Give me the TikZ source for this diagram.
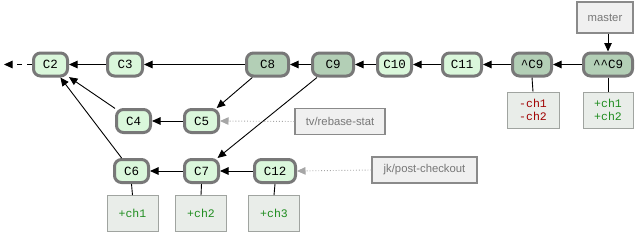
\documentclass[tikz,border=0pt]{standalone}
\usepackage{fontspec}
\setmainfont{Liberation Sans}
\newfontfamily\cmono{Liberation Mono}
\usetikzlibrary{arrows.meta}
\definecolor{cborder}{HTML}{787878}
\definecolor{clight}{HTML}{DAF7DB}
\definecolor{cdark}{HTML}{B3CFB6}
\definecolor{lfill}{HTML}{F0F0F0}
\definecolor{lborder}{HTML}{8A8A8A}
\definecolor{ltext}{HTML}{777777}
\definecolor{bfill}{HTML}{E9EDE9}
\definecolor{bborder}{HTML}{A0A4A0}
\definecolor{addgreen}{HTML}{1E8C1E}
\definecolor{delred}{HTML}{A00000}
\begin{document}
\begin{tikzpicture}[x=1pt,y=-1pt,
  commit/.style={draw=cborder, line width=3pt, rounded corners=7pt, fill=clight,
    minimum width=34pt, minimum height=23pt, inner sep=0pt,
    font=\cmono\fontsize{12.5}{14}\selectfont},
  dark/.style={fill=cdark},
  lbl/.style={draw=lborder, line width=1.3pt, fill=lfill, text=ltext,
    minimum height=26pt, inner sep=2pt, font=\fontsize{11.3}{13}\selectfont},
  chg/.style={draw=bborder, line width=0.7pt, fill=bfill, minimum width=51pt,
    minimum height=36pt, inner sep=1pt, align=center,
    font=\cmono\fontsize{11.5}{13}\selectfont},
  arr/.style={-{Triangle[length=8.5pt,width=7.5pt]}, line width=0.9pt},
  ptr/.style={-{Triangle[length=8.5pt,width=7.5pt]}, line width=0.9pt, dotted, draw=black!35},
  stem/.style={line width=0.9pt}
]
\useasboundingbox (0,0) rectangle (639,233);
% top row
\node[commit, minimum width=34pt] (c2) at (50.5,64.5) {C2};
\node[commit, minimum width=35pt] (c3) at (125,64.5) {C3};
\node[commit, dark, minimum width=42pt] (c8) at (267.5,64.5) {C8};
\node[commit, dark, minimum width=41pt] (c9) at (333,64.5) {C9};
\node[commit, minimum width=34pt] (c10) at (394.5,64.5) {C10};
\node[commit, minimum width=39pt] (c11) at (462,64.5) {C11};
\node[commit, dark, minimum width=39pt] (pc9) at (532,64.5) {\textasciicircum C9};
\node[commit, dark, minimum width=49pt] (ppc9) at (608,64.5) {\textasciicircum\textasciicircum C9};
% middle row
\node[commit] (c4) at (133.5,121) {C4};
\node[commit] (c5) at (201.5,121) {C5};
% bottom row
\node[commit] (c6) at (131.5,171) {C6};
\node[commit] (c7) at (201.5,171) {C7};
\node[commit, minimum width=41pt] (c12) at (275,171) {C12};
% labels
\node[lbl, minimum width=56pt, minimum height=31pt] (master) at (605,17.5) {master};
\node[lbl, minimum width=90pt] (tv) at (340,121.5) {tv/rebase-stat};
\node[lbl, minimum width=105pt] (jk) at (424.5,170) {jk/post-checkout};
% change boxes
\node[chg, text=addgreen] (b6) at (132.5,213.5) {+ch1};
\node[chg, text=addgreen] (b7) at (201,213.5) {+ch2};
\node[chg, text=addgreen] (b12) at (274,213.5) {+ch3};
\node[chg, text=delred, minimum width=52pt] (bpc9) at (533,110) {-ch1\\-ch2};
\node[chg, text=addgreen, minimum width=50pt] (bppc9) at (608,110) {+ch1\\+ch2};
% stems
\draw[stem] (c6.south) -- (b6.north);
\draw[stem] (c7.south) -- (b7.north);
\draw[stem] (c12.south) -- (b12.north);
\draw[stem] (pc9.south) -- (bpc9.north);
\draw[stem] (ppc9.south) -- (bppc9.north);
% parent links
\coordinate (past) at (4,64.5);
\draw[arr, dashed, dash pattern=on 5pt off 5pt] (c2.west) -- (past);
\draw[arr] (c3) -- (c2);
\draw[arr] (c8) -- (c3);
\draw[arr] (c9) -- (c8);
\draw[arr] (c10) -- (c9);
\draw[arr] (c11) -- (c10);
\draw[arr] (pc9) -- (c11);
\draw[arr] (ppc9) -- (pc9);
\draw[arr] (c4) -- (c2);
\draw[arr] (c6) -- (c2);
\draw[arr] (c5) -- (c4);
\draw[arr] (c8) -- (c5);
\draw[arr] (c9) -- (c7);
\draw[arr] (c7) -- (c6);
\draw[arr] (c12) -- (c7);
% ref pointers
\draw[arr] (master.south -| ppc9.north) -- (ppc9.north);
\draw[ptr] (tv.west) -- (c5.east);
\draw[ptr] (jk.west) -- (c12.east);
\end{tikzpicture}
\end{document}
